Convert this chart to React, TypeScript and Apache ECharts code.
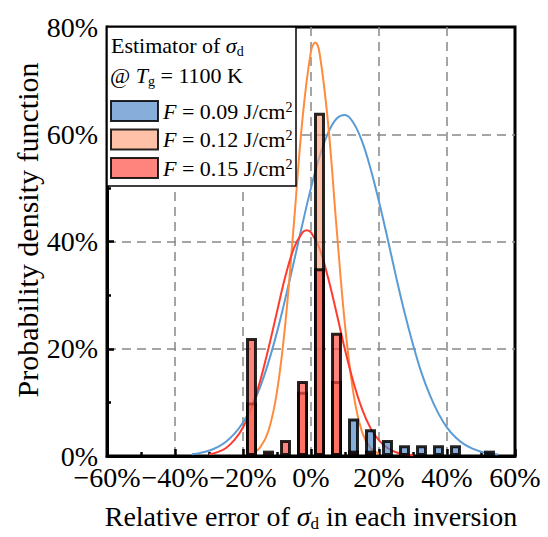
import React, { useEffect, useRef } from 'react';
import * as echarts from 'echarts';

const FONT = '"Liberation Serif", "Times New Roman", Times, serif';

// Legend / series names and the fluence values shown in the legend
const seriesNames = ['F = 0.09 J/cm2', 'F = 0.12 J/cm2', 'F = 0.15 J/cm2'];
const fluenceValues = ['0.09', '0.12', '0.15'];

// Axis ticks
const xMin = -60;
const xMax = 60;
const xStep = 20;
const yMin = 0;
const yMax = 80;
const yStep = 20;

// Histogram bars: [bin centre (%), share (%)]
const histF009: [number, number][] = [
  [12.5, 7], [17.5, 5], [22.5, 3], [27.5, 2], [32.5, 2], [37.5, 2], [42.5, 2], [52.5, 1],
];
const histF012: [number, number][] = [
  [-17.5, 10], [-2.5, 12], [2.5, 64], [7.5, 14],
];
const histF015: [number, number][] = [
  [-17.5, 22], [-12.5, 1], [-7.5, 3], [-2.5, 14], [2.5, 35], [7.5, 23], [12.5, 1], [17.5, 1],
];

// Fitted density curves: [x (%), y (%)]
const fitF009: [number, number][] = [
  [-35, 0.33], [-32.5, 0.58], [-30, 0.99], [-27.5, 1.66], [-25, 2.67], [-22.5, 4.16],
  [-20, 6.25], [-17.5, 9.1], [-15, 12.8], [-12.5, 17.5], [-10, 23.1], [-7.5, 29.5],
  [-5, 36.3], [-2.5, 43.3], [0, 50.0], [2.5, 55.8], [5, 60.2], [7.5, 62.9], [10, 63.6],
  [12.5, 62.1], [15, 58.7], [17.5, 53.6], [20, 47.4], [22.5, 40.6], [25, 33.5],
  [27.5, 26.8], [30, 20.8], [32.5, 15.5], [35, 11.3], [37.5, 7.9], [40, 5.3],
  [42.5, 3.5], [45, 2.2], [47.5, 1.36], [50, 0.8], [52.5, 0.46], [55, 0.26],
];
const fitF012: [number, number][] = [
  [-17.5, 0.43], [-15, 1.56], [-12.5, 4.7], [-10, 12.0], [-7.5, 25.0], [-5, 43.6],
  [-2.5, 62.9], [0, 75.5], [1.25, 77.1], [2.5, 75.2], [5, 62.2], [7.5, 42.7],
  [10, 24.4], [12.5, 11.6], [15, 4.5], [17.5, 1.5], [20, 0.4],
];
const fitF015: [number, number][] = [
  [-30, 0.32], [-27.5, 0.73], [-25, 1.5], [-22.5, 3.0], [-20, 5.3], [-17.5, 8.9],
  [-15, 13.9], [-12.5, 20.1], [-10, 26.9], [-7.5, 33.6], [-5, 38.8], [-2.5, 41.7],
  [-1.3, 42.1], [0, 41.7], [2.5, 38.7], [5, 33.3], [7.5, 26.7], [10, 19.8],
  [12.5, 13.7], [15, 8.8], [17.5, 5.2], [20, 2.9], [22.5, 1.5], [25, 0.7],
  [27.5, 0.3], [30, 0.13],
];

const barFills = ['rgba(70,130,200,0.65)', 'rgba(255,160,120,0.65)', 'rgba(255,80,70,0.7)'];
const curveColors = ['#5B9BD5', '#FF8C3C', '#FF3B30'];

const pct = (v: number) => (v < 0 ? '\u2212' + Math.abs(v) : String(v)) + '%';

export default function App() {
  const ref = useRef<HTMLDivElement>(null);

  useEffect(() => {
    if (!ref.current) return;
    const chart = echarts.init(ref.current, undefined, { renderer: 'svg' });

    const hists = [histF009, histF012, histF015];
    const fits = [fitF009, fitF012, fitF015];

    const lineSeries = fits.map((d, i) => ({
      type: 'line',
      name: 'fit ' + fluenceValues[i],
      data: d,
      smooth: 0.4,
      showSymbol: false,
      symbol: 'none',
      silent: true,
      z: 2,
      lineStyle: { color: curveColors[i], width: 2 },
    }));

    const barSeries = hists.map((d, i) => ({
      type: 'bar',
      name: seriesNames[i],
      data: d,
      barWidth: 11,
      barGap: '-100%',
      z: 3,
      itemStyle: {
        color: barFills[i],
        borderColor: 'rgba(0,0,0,0.85)',
        borderWidth: 3,
      },
    }));

    const richBase = { fontFamily: FONT, color: '#000' };
    const split = {
      show: true,
      showMinLine: false,
      showMaxLine: false,
      lineStyle: { color: '#888', width: 1.5, type: [9, 6] },
    };

    chart.setOption({
      animation: false,
      backgroundColor: '#fff',
      grid: {
        left: 107, right: 33, top: 27, bottom: 78,
        show: true, borderColor: '#000', borderWidth: 3,
      },
      xAxis: {
        type: 'value',
        min: xMin, max: xMax, interval: xStep,
        name: 'Relative error of {i|σ}{sub|d} in each inversion',
        nameLocation: 'middle',
        nameGap: 44,
        nameTextStyle: {
          ...richBase, fontSize: 28, lineHeight: 32,
          rich: {
            i: { ...richBase, fontSize: 28, fontStyle: 'italic', lineHeight: 32 },
            sub: { ...richBase, fontSize: 17, lineHeight: 17, verticalAlign: 'bottom' },
          },
        },
        axisLine: { show: true, onZero: false, lineStyle: { color: '#000', width: 3 } },
        axisTick: { show: true, inside: true, length: 7, lineStyle: { color: '#000', width: 2.5 } },
        minorTick: { show: true, splitNumber: 2, length: 4, lineStyle: { color: '#000', width: 2.5 } },
        axisLabel: { formatter: pct, color: '#000', fontFamily: FONT, fontSize: 28, margin: 7 },
        splitLine: split,
      },
      yAxis: {
        type: 'value',
        min: yMin, max: yMax, interval: yStep,
        axisLine: { show: true, onZero: false, lineStyle: { color: '#000', width: 3 } },
        axisTick: { show: true, inside: true, length: 7, lineStyle: { color: '#000', width: 2.5 } },
        minorTick: { show: true, splitNumber: 2, length: 4, lineStyle: { color: '#000', width: 2.5 } },
        axisLabel: { formatter: pct, color: '#000', fontFamily: FONT, fontSize: 28, margin: 9 },
        splitLine: split,
      },
      legend: {
        show: true,
        data: seriesNames,
        orient: 'vertical',
        left: 110,
        top: 100,
        padding: 0,
        itemWidth: 47,
        itemHeight: 20,
        itemGap: 6.5,
        icon: 'rect',
        selectedMode: false,
        z: 60,
        formatter: (name: string) => {
          const idx = seriesNames.indexOf(name);
          return '{i|F} = ' + fluenceValues[idx] + ' J/cm{sup|2}';
        },
        textStyle: {
          ...richBase, fontSize: 22, lineHeight: 22,
          rich: {
            i: { ...richBase, fontSize: 22, fontStyle: 'italic', lineHeight: 22 },
            sup: { ...richBase, fontSize: 14, lineHeight: 14, verticalAlign: 'top' },
          },
        },
      },
      graphic: [
        {
          type: 'rect',
          z: 50,
          shape: { x: 107, y: 27, width: 189, height: 159 },
          style: { fill: '#fff', stroke: '#000', lineWidth: 1.5 },
        },
        {
          type: 'text',
          z: 51,
          x: 111,
          y: 45,
          style: {
            text: 'Estimator of {i|σ}{sub|d}',
            fill: '#000', fontFamily: FONT, fontSize: 22,
            verticalAlign: 'middle',
            lineHeight: 26,
            rich: {
              i: { fill: '#000', fontFamily: FONT, fontSize: 22, fontStyle: 'italic', lineHeight: 26 },
              sub: { fill: '#000', fontFamily: FONT, fontSize: 14, lineHeight: 13, verticalAlign: 'bottom' },
            },
          },
        },
        {
          type: 'text',
          z: 51,
          x: 110,
          y: 75,
          style: {
            text: '@ {i|T}{sub|g} = 1100 K',
            fill: '#000', fontFamily: FONT, fontSize: 22,
            verticalAlign: 'middle',
            lineHeight: 26,
            rich: {
              i: { fill: '#000', fontFamily: FONT, fontSize: 22, fontStyle: 'italic', lineHeight: 26 },
              sub: { fill: '#000', fontFamily: FONT, fontSize: 14, lineHeight: 13, verticalAlign: 'bottom' },
            },
          },
        },
        {
          type: 'text',
          z: 51,
          x: 27,
          y: 230,
          rotation: Math.PI / 2,
          style: {
            text: 'Probability density function',
            fill: '#000', fontFamily: FONT, fontSize: 30,
            align: 'center',
            verticalAlign: 'middle',
          },
        },
      ],
      series: [...lineSeries, ...barSeries],
    });

    return () => chart.dispose();
  }, []);

  return (
    <div
      ref={ref}
      style={{ position: 'fixed', left: 0, top: 0, width: 548, height: 537, background: '#fff' }}
    />
  );
}
